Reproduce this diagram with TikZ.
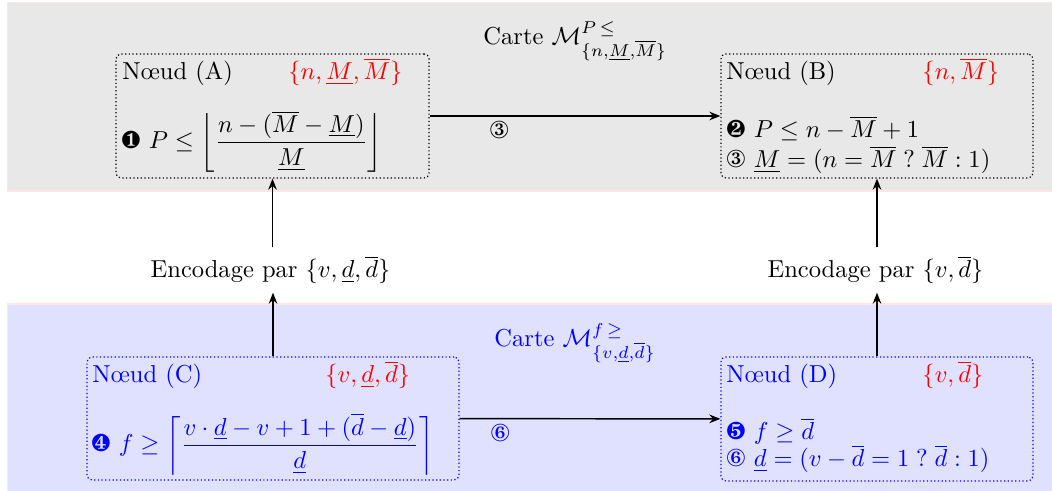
\documentclass[tikz,border=0pt]{standalone}
\usepackage{amsmath,amssymb}
\usepackage{pifont}
\usetikzlibrary{fit,arrows.meta}
\begin{document}
\begin{tikzpicture}[x=0.408pt,y=-0.408pt,
  box/.style={draw, line width=0.5pt, dash pattern=on 0.5pt off 1pt, rounded corners=2pt, inner sep=0pt},
  txt/.style={anchor=base west, inner sep=0pt},
  arr/.style={-{Stealth[length=4.5pt,width=3.5pt]}, line width=0.6pt, black},
  lbl/.style={below, inner sep=2pt}]
\useasboundingbox (0,0) rectangle (1052,491);
% backgrounds
\path[fill=gray!18, draw=red!10, line width=0.5pt] (7.5,2.5) rectangle (1060,191);
\path[fill=blue!12, draw=red!10, line width=0.5pt] (7.5,304) rectangle (1060,500);
% titles
\node[txt] (t1) at (483,45) {Carte $\mathcal{M}^{P\,\leq}_{\{n,\underline{M},\overline{M}\}}$};
\node[txt, blue] (t2) at (494,347) {Carte $\mathcal{M}^{f\,\geq}_{\{v,\underline{d},\overline{d}\}}$};
% boxes
\node[box, fit={(116,54) (429,178)}] (A) {};
\node[box, fit={(721,54) (1033,178)}] (B) {};
\node[box, blue, fit={(87,357) (459,480)}] (C) {};
\node[box, blue, fit={(721,357) (1033,481)}] (D) {};
% box A
\node[txt] (Al) at (122,80) {N\oe ud (A)};
\node[txt, red] (Av) at (288,80) {$\{n,\underline{M},\overline{M}\}$};
\node[txt] (Af) at (121,149) {\ding{182} $P\leq\left\lfloor\dfrac{n-(\overline{M}-\underline{M})}{\underline{M}}\right\rfloor$};
% box B
\node[txt] (Bl) at (726,80) {N\oe ud (B)};
\node[txt, red] (Bv) at (922,80) {$\{n,\overline{M}\}$};
\node[txt] (B1) at (726,138) {\ding{183} $P\leq n-\overline{M}+1$};
\node[txt] (B2) at (726,168) {\ding{174} $\underline{M}=(n=\overline{M}\mathrel{?}\overline{M}:1)$};
% box C
\node[txt, blue] (Cl) at (92,383) {N\oe ud (C)};
\node[txt, red] (Cv) at (325,383) {$\{v,\underline{d},\overline{d}\}$};
\node[txt, blue] (Cf) at (91,452) {\ding{185} $f\geq\left\lceil\dfrac{v\cdot\underline{d}-v+1+(\overline{d}-\underline{d})}{\underline{d}}\right\rceil$};
% box D
\node[txt, blue] (Dl) at (726,383) {N\oe ud (D)};
\node[txt, red] (Dv) at (922,383) {$\{v,\overline{d}\}$};
\node[txt, blue] (D1) at (726,440) {\ding{186} $f\geq\overline{d}$};
\node[txt, blue] (D2) at (726,467) {\ding{177} $\underline{d}=(v-\overline{d}=1\mathrel{?}\overline{d}:1)$};
% encodings
\node (E1) at (270.5,270) {Encodage par $\{v,\underline{d},\overline{d}\}$};
\node (E2) at (875.5,270) {Encodage par $\{v,\overline{d}\}$};
% connectors
\draw[arr] (A) -- node[lbl, pos=0.24] (l3) {\ding{174}} (B);
\draw[arr] (C) -- node[lbl, pos=0.156, blue] (l6) {\ding{177}} (D);
\draw[arr] (C.north) -- (C.north |- E1.south);
\draw[arr] (E1.north -| A.south) -- (A.south);
\draw[arr] (D.north) -- (D.north |- E2.south);
\draw[arr] (E2.north -| B.south) -- (B.south);
\end{tikzpicture}
\end{document}
